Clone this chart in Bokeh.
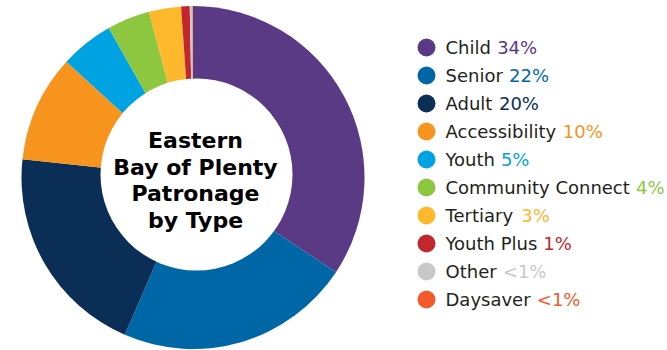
import math
from bokeh.plotting import figure
from bokeh.models import Range1d, ColumnDataSource
from bokeh.core.properties import value
from bokeh.embed import file_html
from bokeh.resources import INLINE

# ---- data ----
categories = ["Child", "Senior", "Adult", "Accessibility", "Youth",
              "Community Connect", "Tertiary", "Youth Plus", "Other", "Daysaver"]
shares = [34, 22, 20, 10, 5, 4, 3, 0.8, 0.25, 0.05]
pct_labels = ["34%", "22%", "20%", "10%", "5%", "4%", "3%", "1%", "<1%", "<1%"]
colors = ["#5A3A84", "#0067A6", "#0B2E57", "#F7941E", "#00A3E1",
          "#8DC63F", "#FDB82B", "#C1272D", "#C8C8CA", "#F15A2B"]
title_lines = ["Eastern", "Bay of Plenty", "Patronage", "by Type"]

# ---- layout (pixel units, y measured upward) ----
W, H = 667, 350
cx, cy, r_out = 192.5, H - 177, 171.5
hx, hy, r_in = 196, H - 174, 96
leg_x, leg_y0, leg_dy = 426, H - 47, 28
text_x = 445
FS = 18

# approximate DejaVu Sans advance widths (em units) for label layout
ADV = {" ": 0.318, "A": 0.684, "C": 0.698, "D": 0.770, "O": 0.787, "P": 0.603,
       "S": 0.635, "T": 0.611, "Y": 0.611, "a": 0.613, "b": 0.635, "c": 0.550,
       "d": 0.635, "e": 0.615, "h": 0.634, "i": 0.278, "l": 0.278, "m": 0.974,
       "n": 0.634, "o": 0.612, "r": 0.411, "s": 0.521, "t": 0.392, "u": 0.634,
       "v": 0.592, "y": 0.592}
KERN = {"Yo": -0.15, "Te": -0.06}


def text_width(s):
    w = sum(ADV.get(ch, 0.6) for ch in s)
    w += sum(KERN.get(s[i:i + 2], 0) for i in range(len(s) - 1))
    return w * FS


pct_x = [text_x + text_width(c + " ") + 0.5 for c in categories]

total = sum(shares)
starts, ends = [], []
c = 0.0
for s in shares:
    c0 = c
    c += s / total
    # clockwise from 12 o'clock
    starts.append(math.pi / 2 - 2 * math.pi * c)
    ends.append(math.pi / 2 - 2 * math.pi * c0)

src = ColumnDataSource(dict(start=starts, end=ends, color=colors))

p = figure(width=W, height=H, output_backend="svg", toolbar_location=None,
           x_range=Range1d(0, W), y_range=Range1d(0, H), min_border=0)
p.axis.visible = False
p.grid.visible = False
p.outline_line_color = None
p.background_fill_color = "white"

p.wedge(x=cx, y=cy, radius=r_out, start_angle="start", end_angle="end",
        color="color", line_color=None, source=src)
p.circle(x=[hx], y=[hy], radius=r_in, fill_color="white", line_color=None)

# center title
title_y = [H - 140, H - 167, H - 193, H - 220]
p.text(x=[195] * 4, y=title_y, text=title_lines, text_align="center",
       text_baseline="middle", text_font=value("DejaVu Sans"),
       text_font_style="bold", text_font_size="22px", text_color="#000000")

# legend
ys = [leg_y0 - i * leg_dy for i in range(len(categories))]
p.scatter(x=[leg_x] * len(categories), y=ys, size=18, marker="circle",
          fill_color=colors, line_color=None)
p.text(x=[text_x] * len(categories), y=ys, text=categories,
       text_baseline="middle", text_font=value("DejaVu Sans"),
       text_font_size=f"{FS}px", text_color="#231F20")
p.text(x=pct_x, y=ys, text=pct_labels, text_color=colors,
       text_baseline="middle", text_font=value("DejaVu Sans"),
       text_font_size=f"{FS}px")

open("out.html", "w").write(file_html(p, INLINE))
